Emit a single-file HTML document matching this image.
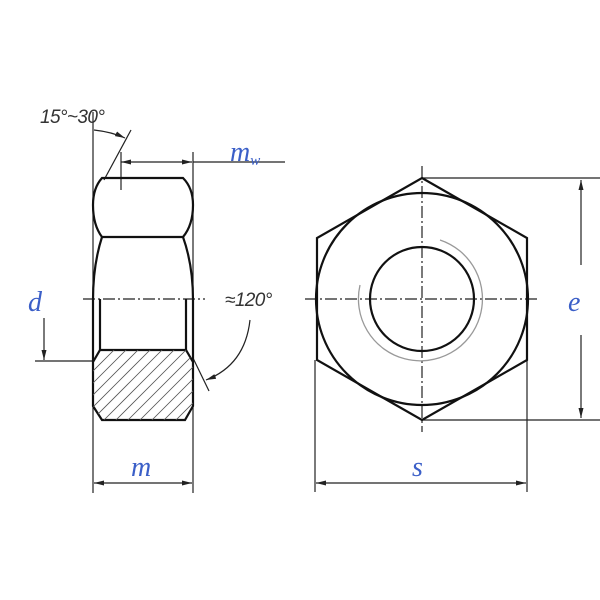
<!DOCTYPE html>
<html><head><meta charset="utf-8"><style>html,body{margin:0;padding:0;background:#fff}svg{display:block}</style></head>
<body>
<svg width="600" height="600" viewBox="0 0 600 600" xmlns="http://www.w3.org/2000/svg">
<defs>
<marker id="a" viewBox="0 0 10 6" refX="10" refY="3" markerWidth="10" markerHeight="6" orient="auto-start-reverse" markerUnits="userSpaceOnUse"><path d="M0,0.5 L10,3 L0,5.5z" fill="#222"/></marker>
<clipPath id="hc"><path d="M100,350 L186,350 L193,362 L193,406 L185,420 L102,420 L93,406 L93,362 Z"/></clipPath>
</defs>
<g fill="none" stroke="#222" stroke-width="1.2">
<line x1="93" y1="112" x2="93" y2="493"/>
<line x1="193" y1="152" x2="193" y2="493"/>
<line x1="193" y1="162" x2="285" y2="162"/>
<line x1="121" y1="152" x2="121" y2="190"/>
<line x1="121" y1="162" x2="192" y2="162" marker-start="url(#a)" marker-end="url(#a)"/>
<line x1="104" y1="180" x2="131" y2="130"/>
<path d="M94,130 Q112,132 125,138" marker-end="url(#a)"/>
<line x1="94" y1="483" x2="192" y2="483" marker-start="url(#a)" marker-end="url(#a)"/>
<line x1="35" y1="361" x2="93" y2="361"/>
<line x1="44" y1="318" x2="44" y2="360" marker-end="url(#a)"/>
<line x1="193" y1="358" x2="209" y2="391"/>
<path d="M250,320 Q245,365 206,380" marker-end="url(#a)"/>
<line x1="83" y1="299" x2="205" y2="299" stroke-dasharray="12,3,2,3"/>
</g>
<g fill="none" stroke="#111" stroke-width="2.2">
<path d="M102,178 L183,178 Q193,188 193,205 Q193,225 183,237 L102,237 Q93,225 93,205 Q93,188 102,178 Z"/>
<path d="M102,237 Q93,265 93,300 M183,237 Q193,265 193,300"/>
<path d="M100,350 L186,350 L193,362 L193,406 L185,420 L102,420 L93,406 L93,362 Z"/>
<line x1="100" y1="299" x2="100" y2="350"/>
<line x1="186" y1="299" x2="186" y2="350"/>
<line x1="93" y1="300" x2="93" y2="362"/>
<line x1="193" y1="300" x2="193" y2="362"/>
</g>
<g clip-path="url(#hc)" stroke="#555" stroke-width="0.8">
<path d="M60,440 L160,340 M72,440 L172,340 M84,440 L184,340 M96,440 L196,340 M108,440 L208,340 M120,440 L220,340 M132,440 L232,340 M144,440 L244,340 M156,440 L256,340 M168,440 L268,340 M180,440 L280,340 M48,440 L148,340 M36,440 L136,340 M24,440 L124,340"/>
</g>
<g fill="none" stroke="#222" stroke-width="1.2">
<line x1="422" y1="178" x2="600" y2="178"/>
<line x1="422" y1="420" x2="600" y2="420"/>
<line x1="581" y1="180" x2="581" y2="265" marker-start="url(#a)"/>
<line x1="581" y1="335" x2="581" y2="418" marker-end="url(#a)"/>
<line x1="315" y1="360" x2="315" y2="492"/>
<line x1="527" y1="360" x2="527" y2="492"/>
<line x1="316" y1="483" x2="526" y2="483" marker-start="url(#a)" marker-end="url(#a)"/>
<line x1="305" y1="299" x2="540" y2="299" stroke-dasharray="12,3,2,3"/>
<line x1="422" y1="166" x2="422" y2="432" stroke-dasharray="12,3,2,3"/>
</g>
<path d="M440,240 A62,62 0 1 1 360,285" fill="none" stroke="#999" stroke-width="1.3"/>
<g fill="none" stroke="#111" stroke-width="2.2">
<polygon points="422,178 527,238 527,360 422,420 317,360 317,238"/>
<circle cx="422" cy="299" r="106"/>
<circle cx="422" cy="299" r="52"/>
</g>
<g font-family="Liberation Serif, serif" font-style="italic" fill="#3b5fc8" font-size="28">
<text x="28" y="311">d</text>
<text x="131" y="476">m</text>
<text x="412" y="476">s</text>
<text x="568" y="311">e</text>
<text x="230" y="161">m<tspan font-size="15" dy="4">w</tspan></text>
</g>
<g font-family="Liberation Sans, sans-serif" font-style="italic" fill="#333" font-size="19" letter-spacing="-0.6">
<text x="40" y="123">15°~30°</text>
<text x="225" y="306">≈120°</text>
</g>
</svg>
</body></html>
